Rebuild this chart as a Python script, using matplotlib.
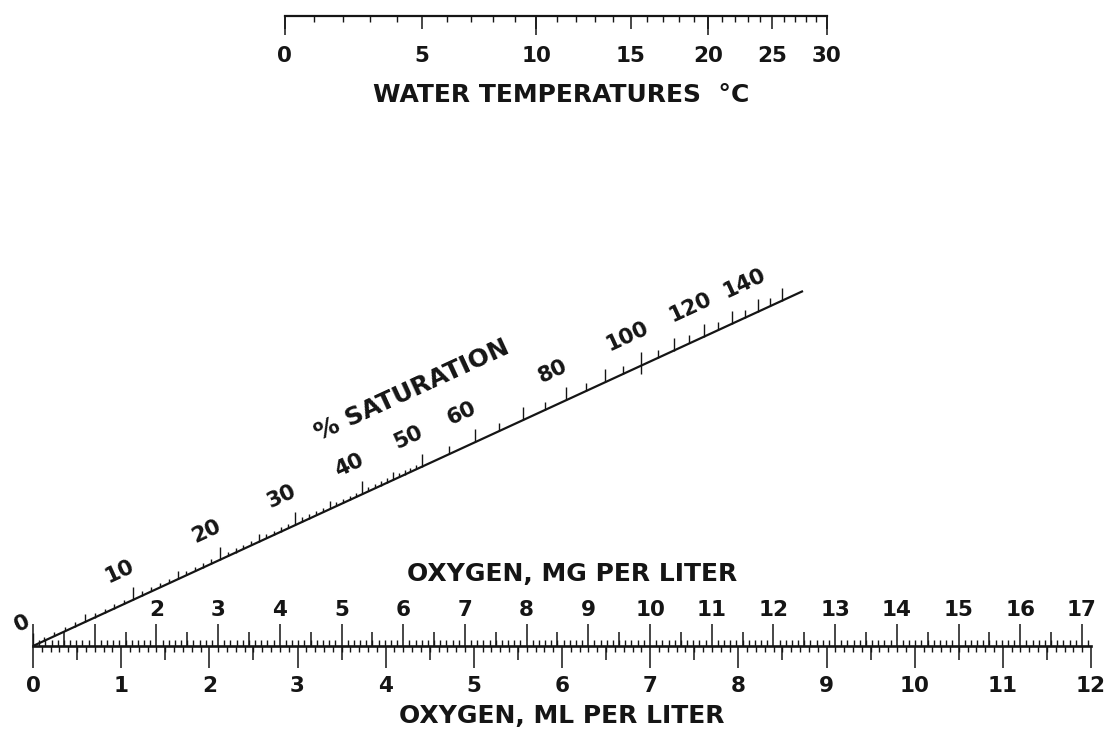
import numpy as np
import matplotlib
matplotlib.use("Agg")
import matplotlib.pyplot as plt
from matplotlib.collections import LineCollection

# ------------------------------------------------------------------ data
temp_major = [0, 5, 10, 15, 20, 25, 30]
temp_long = [0, 10, 20, 30]
temp_minor = list(range(0, 31))

mg_major = list(range(0, 18))
mg_labels = ["", ""] + [str(v) for v in range(2, 18)]
mg_half = [v + 0.5 for v in range(0, 17)]
mg_minor = [v / 10 for v in range(0, 172)]

ml_major = list(range(0, 13))
ml_labels = [str(v) for v in ml_major]
ml_half = [v + 0.5 for v in range(0, 12)]
ml_minor = [v / 10 for v in range(0, 121)]

sat_ticks = list(range(0, 50)) + list(range(50, 151, 5))
sat_labels = [0, 10, 20, 30, 40, 50, 60, 80, 100, 120, 140]

MG_PER_ML = 1.429                                   # oxygen: mg per ml
SOL_COEF = [14.62, -0.3898, 0.006969, -0.00005897]  # O2 solubility (mg/L) vs T

# ------------------------------------------------------------------ layout
W, H = 1107, 734
INK = "#151515"
NUM_FS, TITLE_FS = 15.5, 18
plt.rcParams["font.family"] = ["DejaVu Sans"]
plt.rcParams["font.weight"] = "bold"
plt.rcParams["axes.labelweight"] = "bold"

fig = plt.figure(figsize=(W / 100, H / 100), dpi=100)
fig.patch.set_facecolor("white")

# overlay in pixel coordinates for the diagonal (% saturation) scale
ov = fig.add_axes([0, 0, 1, 1])
ov.set_xlim(0, W)
ov.set_ylim(H, 0)
ov.set_axis_off()

# ---------------------------------------------------------- temperature scale
def t_fwd(t):
    t = np.asarray(t, dtype=float)
    return SOL_COEF[0] - (SOL_COEF[0] + SOL_COEF[1] * t + SOL_COEF[2] * t ** 2 + SOL_COEF[3] * t ** 3)

_tg = np.linspace(-10, 40, 4001)
def t_inv(v):
    return np.interp(np.asarray(v, dtype=float), t_fwd(_tg), _tg)

T_LEFT, T_RIGHT, T_Y = 284.5, 826.5, 15.5
rectT = [T_LEFT / W, 1 - T_Y / H, (T_RIGHT - T_LEFT) / W, 1e-4]

axT = fig.add_axes(rectT)
axT.set_xscale("function", functions=(t_fwd, t_inv))
axT.set_xlim(0, 30)
axT.set_yticks([])
for s in ["left", "right", "top"]:
    axT.spines[s].set_visible(False)
axT.spines["bottom"].set_linewidth(1.6)
axT.spines["bottom"].set_color(INK)
axT.set_xticks(temp_major)
axT.set_xticklabels([str(v) for v in temp_major])
axT.set_xticks(temp_minor, minor=True)
axT.tick_params(axis="x", which="major", direction="out", length=9, width=1.1,
                colors=INK, labelsize=NUM_FS, pad=13)
axT.tick_params(axis="x", which="minor", direction="out", length=4, width=1.0, colors=INK)
axT.set_xlabel("WATER TEMPERATURES  \u00b0C", fontsize=TITLE_FS, fontweight="bold",
               color=INK, labelpad=12)
axT.xaxis.label.set_x(0.51)

axT2 = fig.add_axes(rectT)
axT2.set_xscale("function", functions=(t_fwd, t_inv))
axT2.set_xlim(0, 30)
axT2.patch.set_visible(False)
axT2.set_yticks([])
for s in axT2.spines.values():
    s.set_visible(False)
axT2.set_xticks(temp_long)
axT2.set_xticklabels([])
axT2.tick_params(axis="x", which="major", direction="out", length=14, width=1.1, colors=INK)

# ---------------------------------------------------------- oxygen scales
O2_LEFT, O2_Y = 33.0, 646.0
O2_PX_PER_MG = 61.7
mg_max = ml_major[-1] * MG_PER_ML
rectO = [O2_LEFT / W, 1 - O2_Y / H, mg_max * O2_PX_PER_MG / W, 1e-4]

axO = fig.add_axes(rectO)
axO.set_xlim(0, mg_max)
axO.set_yticks([])
axO.patch.set_visible(False)
for s in ["left", "right", "bottom"]:
    axO.spines[s].set_visible(False)
axO.spines["top"].set_linewidth(1.9)
axO.spines["top"].set_color(INK)
axO.xaxis.tick_top()
axO.xaxis.set_label_position("top")
axO.set_xticks(mg_major)
axO.set_xticklabels(mg_labels)
axO.set_xticks(mg_minor, minor=True)
axO.tick_params(axis="x", which="major", direction="out", length=16, width=1.1,
                colors=INK, labelsize=NUM_FS, pad=3)
axO.tick_params(axis="x", which="minor", direction="out", length=4, width=1.0, colors=INK)
axO.set_xlabel("OXYGEN, MG PER LITER", fontsize=TITLE_FS, fontweight="bold",
               color=INK, labelpad=13)
axO.xaxis.label.set_x(0.51)

secH = axO.secondary_xaxis("top")
secH.set_xticks(mg_half)
secH.set_xticklabels([])
secH.tick_params(axis="x", which="major", direction="out", length=10, width=1.1, colors=INK)
for s in secH.spines.values():
    s.set_visible(False)

def mg2ml(v):
    return np.asarray(v, dtype=float) / MG_PER_ML

def ml2mg(v):
    return np.asarray(v, dtype=float) * MG_PER_ML

secML = axO.secondary_xaxis("bottom", functions=(mg2ml, ml2mg))
secML.set_xticks(ml_major)
secML.set_xticklabels(ml_labels)
secML.set_xticks(ml_minor, minor=True)
secML.tick_params(axis="x", which="major", direction="out", length=16, width=1.1,
                  colors=INK, labelsize=NUM_FS, pad=5.5)
secML.tick_params(axis="x", which="minor", direction="out", length=4, width=1.0, colors=INK)
for s in secML.spines.values():
    s.set_visible(False)
secML.set_xlabel("OXYGEN, ML PER LITER", fontsize=TITLE_FS, fontweight="bold",
                 color=INK, labelpad=6)

secMLH = axO.secondary_xaxis("bottom", functions=(mg2ml, ml2mg))
secMLH.set_xticks(ml_half)
secMLH.set_xticklabels([])
secMLH.tick_params(axis="x", which="major", direction="out", length=10, width=1.1, colors=INK)
for s in secMLH.spines.values():
    s.set_visible(False)

# ---------------------------------------------------------- % saturation scale
SAT_A, SAT_B = 1396.0, 129.6        # hyperbolic nomogram scale (horizontal px)
SAT_ANGLE = np.deg2rad(24.75)
SAT_END = 770.0
tan_a, sin_a, cos_a = np.tan(SAT_ANGLE), np.sin(SAT_ANGLE), np.cos(SAT_ANGLE)

def sat_dx(s):
    s = np.asarray(s, dtype=float)
    return SAT_A * s / (s + SAT_B)

def sat_point(dx):
    return O2_LEFT + dx, O2_Y - dx * tan_a

x0, y0 = sat_point(0)
x1, y1 = sat_point(SAT_END)
ov.plot([x0, x1], [y0, y1], color=INK, lw=1.6, solid_capstyle="butt")

segs = []
for s in sat_ticks:
    x, y = sat_point(sat_dx(s))
    if s == 100:
        segs.append([(x, y + 8), (x, y - 14)])
    elif s % 10 == 0:
        segs.append([(x, y), (x, y - 13)])
    elif s % 5 == 0:
        segs.append([(x, y), (x, y - 8)])
    else:
        segs.append([(x, y), (x, y - 4.5)])
ov.add_collection(LineCollection(segs, colors=INK, linewidths=1.0))

LBL_OFF = 32.0
for s in sat_labels:
    x, y = sat_point(sat_dx(s))
    off = 25.0 if s == 0 else LBL_OFF
    ov.text(x - off * sin_a, y - off * cos_a, str(s), rotation=np.rad2deg(SAT_ANGLE),
            rotation_mode="anchor", ha="center", va="center", fontsize=NUM_FS, color=INK)

xt, yt = sat_point(410.0)
ov.text(xt - 73 * sin_a, yt - 73 * cos_a, "% SATURATION", rotation=np.rad2deg(SAT_ANGLE),
        rotation_mode="anchor", ha="center", va="center", fontsize=TITLE_FS, color=INK)

fig.savefig("out.png", dpi=100, facecolor="white")
